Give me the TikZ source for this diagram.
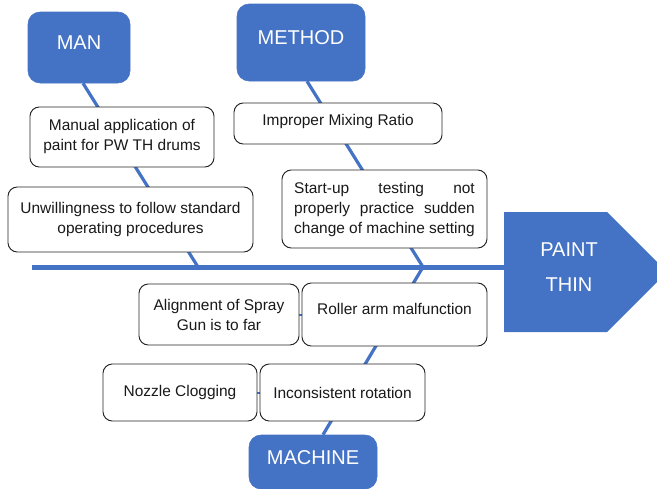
\documentclass[tikz,border=0pt]{standalone}
\usepackage{fontspec}
\setmainfont{Liberation Sans}
\usetikzlibrary{backgrounds}
\definecolor{myblue}{HTML}{4472C4}
\newlength\sulen
\begin{document}
\settowidth\sulen{\fontsize{11.6}{15}\selectfont change of machine setting}
\begin{tikzpicture}[x=0.75pt,y=-0.75pt,
  cat/.style={fill=myblue, draw=myblue, rounded corners=9pt, text=white,
    font=\fontsize{15}{18}\selectfont, inner sep=0pt},
  cause/.style={draw=black!85, line width=0.7pt, fill=white, rounded corners=7pt,
    font=\fontsize{11.6}{15}\selectfont, inner sep=0pt, align=center, text=black!90},
  bone/.style={draw=myblue, line width=2.4pt},
  spine/.style={draw=myblue, line width=3.75pt},
  link/.style={draw=myblue, line width=1.5pt}]

\useasboundingbox (0,0) rectangle (657,489);
\clip (0,0) rectangle (657,489);

% category boxes
\node[cat, minimum width=76.5pt, minimum height=53.25pt, text height=11pt, text depth=8.2pt] (man) at (79,47.5) {MAN};
\node[cat, minimum width=96pt, minimum height=57.75pt, text height=11pt, text depth=7.5pt] (method) at (301,42.5) {METHOD};
\node[cat, minimum width=96pt, minimum height=40.5pt, text height=11pt, text depth=6.8pt] (machine) at (313,462) {MACHINE};

% effect head
\fill[myblue] (504,212) -- (607,212) -- (667,272) -- (607,332) -- (504,332) -- cycle;
\node[text=white, font=\fontsize{15}{26}\selectfont, align=center, inner sep=0pt] (effect) at (569,267) {PAINT\\THIN};
\coordinate (head) at (504,267);
\coordinate (tail) at (32,267);
\coordinate (j1) at (198,267);
\coordinate (j2) at (423,267);

% causes
\node[cause, minimum width=138pt, minimum height=45pt] (manual) at (122,137) {Manual application of\\paint for PW TH drums};
\node[cause, minimum width=183.75pt, minimum height=48.75pt] (unwill) at (130.5,219.5) {Unwillingness to follow standard\\operating procedures};
\node[cause, minimum width=156pt, minimum height=30.75pt, text height=8.5pt, text depth=5.2pt] (mix) at (338,123.5) {Improper Mixing Ratio};
\node[cause, minimum width=153.75pt, minimum height=58.5pt, align=left] (startup) at (384.5,209)
  {\hbox to\sulen{Start-up\hfill testing\hfill not}\\\hbox to\sulen{properly\hfill practice\hfill sudden}\\change of machine setting};
\node[cause, minimum width=120pt, minimum height=45.75pt] (align) at (219,314.5) {Alignment of Spray\\Gun is to far};
\node[cause, minimum width=138.75pt, minimum height=47.25pt, text height=8.5pt, text depth=8.2pt] (roller) at (394.5,314.5) {Roller arm malfunction};
\node[cause, minimum width=115.5pt, minimum height=42.75pt] (nozzle) at (180,392.5) {Nozzle Clogging};
\node[cause, minimum width=123.75pt, minimum height=42.75pt] (incons) at (342.5,392.5) {Inconsistent rotation};

\begin{scope}[on background layer]
\draw[spine] (tail) -- (head);
\draw[bone] ([xshift=3pt]man.south) -- (j1);
\draw[bone] ([xshift=4.5pt]method.south) -- (j2);
\draw[bone] (j2) -- ([xshift=7.5pt]machine.north);
\draw[link] (align.east) -- (roller.west);
\draw[link] (nozzle.east) -- (incons.west);
\end{scope}
\end{tikzpicture}
\end{document}
